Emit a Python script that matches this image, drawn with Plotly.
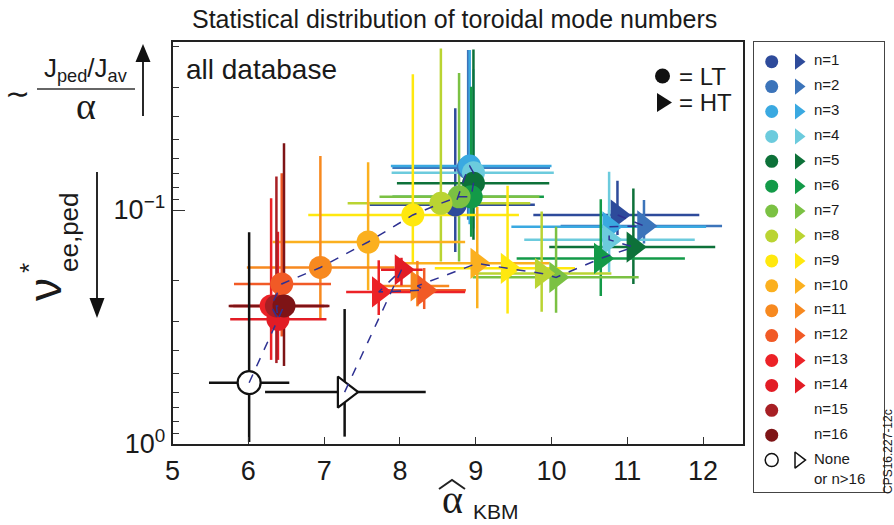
import plotly.graph_objects as go

W, H = 894, 525

labels = ["n=1", "n=2", "n=3", "n=4", "n=5", "n=6", "n=7", "n=8", "n=9", "n=10",
          "n=11", "n=12", "n=13", "n=14", "n=15", "n=16", "None"]
colors = ["#2E4B9B", "#3C74BA", "#3AA9E1", "#6CCBDD", "#0D7139", "#139A48", "#7BC143",
          "#BAD432", "#FFE80E", "#FBB01F", "#F7891F", "#F15A26", "#EC2227", "#E21C25",
          "#A71F24", "#7E1416", "#FFFFFF"]

# LT (circles): n=1..16, None
lt_x = [8.73, 8.90, 8.92, 8.97, 8.97, 8.94, 8.78, 8.54, 8.17, 7.58, 6.95, 6.44, 6.30, 6.39, 6.37, 6.47, 6.01]
lt_y = [0.095, 0.066, 0.0649, 0.0693, 0.0769, 0.0878, 0.0878, 0.0936, 0.105, 0.137, 0.176, 0.207, 0.257, 0.293, 0.257, 0.257, 0.547]
lt_xlo = [7.60, 7.90, 7.88, 7.89, 7.96, 7.90, 7.73, 7.31, 6.79, 6.32, 5.98, 5.81, 5.76, 5.76, 5.80, 5.74, 5.48]
lt_xhi = [9.78, 9.98, 10.00, 10.03, 9.97, 9.90, 9.84, 9.72, 9.57, 8.86, 7.93, 7.09, 7.00, 7.03, 7.05, 7.07, 6.54]
lt_ylo = [0.0367, 0.0207, 0.0207, 0.025, 0.0206, 0.0297, 0.026, 0.0204, 0.0263, 0.0625, 0.0588, 0.0697, 0.089, 0.124, 0.072, 0.0519, 0.1245]
lt_yhi = [0.151, 0.110, 0.115, 0.120, 0.134, 0.130, 0.166, 0.166, 0.169, 0.220, 0.290, 0.347, 0.437, 0.437, 0.451, 0.464, 0.98]

# HT (triangles): n=1..14, None
ht_idx = [0, 1, 2, 3, 4, 5, 6, 7, 8, 9, 10, 11, 12, 13, 16]
ht_x = [10.87, 11.22, 10.76, 10.76, 11.08, 10.65, 10.06, 9.87, 9.42, 9.02, 8.23, 8.32, 7.72, 8.02, 7.27]
ht_y = [0.105, 0.117, 0.118, 0.134, 0.144, 0.161, 0.194, 0.1866, 0.1775, 0.169, 0.211, 0.220, 0.224, 0.180, 0.60]
ht_xlo = [9.76, 10.12, 9.47, 9.64, 9.97, 9.54, 8.96, 8.99, 8.46, 8.03, 7.77, 7.82, 7.29, 7.75, 6.22]
ht_xhi = [11.95, 12.25, 12.04, 11.89, 12.16, 11.76, 11.15, 10.79, 10.31, 9.97, 8.65, 8.87, 8.86, 8.30, 8.34]
ht_ylo = [0.0749, 0.0906, 0.100, 0.0686, 0.081, 0.090, 0.118, 0.1016, 0.0787, 0.0968, 0.165, 0.177, 0.164, 0.160, 0.265]
ht_yhi = [0.128, 0.139, 0.135, 0.184, 0.207, 0.233, 0.275, 0.272, 0.277, 0.263, 0.258, 0.265, 0.281, 0.210, 0.93]

x_ticks = [5, 6, 7, 8, 9, 10, 11, 12]
y_major = [0.1, 1.0]
y_major_text = ["10<sup>\u22121</sup>", "10<sup>0</sup>"]
y_minor = [0.02, 0.03, 0.04, 0.05, 0.06, 0.07, 0.08, 0.09, 0.2, 0.3, 0.4, 0.5, 0.6, 0.7, 0.8, 0.9]

FONT = "Liberation Sans"
DASH_COLOR = "#2E3192"
INK = "#1a1a1a"


def edge(c):
    return "#111111" if c == "#FFFFFF" else c


fig = go.Figure()

# error bars (behind markers)
for i in range(len(lt_x)):
    c = edge(colors[i])
    fig.add_trace(go.Scatter(
        x=[lt_x[i]], y=[lt_y[i]], mode="markers",
        marker=dict(size=1, opacity=0),
        error_x=dict(type="data", symmetric=False, array=[lt_xhi[i] - lt_x[i]],
                     arrayminus=[lt_x[i] - lt_xlo[i]], color=c, thickness=2.5, width=0),
        error_y=dict(type="data", symmetric=False, array=[lt_yhi[i] - lt_y[i]],
                     arrayminus=[lt_y[i] - lt_ylo[i]], color=c, thickness=2.5, width=0),
        showlegend=False, hoverinfo="skip"))
for k, i in enumerate(ht_idx):
    c = edge(colors[i])
    fig.add_trace(go.Scatter(
        x=[ht_x[k]], y=[ht_y[k]], mode="markers",
        marker=dict(size=1, opacity=0),
        error_x=dict(type="data", symmetric=False, array=[ht_xhi[k] - ht_x[k]],
                     arrayminus=[ht_x[k] - ht_xlo[k]], color=c, thickness=2.5, width=0),
        error_y=dict(type="data", symmetric=False, array=[ht_yhi[k] - ht_y[k]],
                     arrayminus=[ht_y[k] - ht_ylo[k]], color=c, thickness=2.5, width=0),
        showlegend=False, hoverinfo="skip"))

# markers
for i in range(len(lt_x)):
    c = colors[i]
    hollow = c == "#FFFFFF"
    fig.add_trace(go.Scatter(
        x=[lt_x[i]], y=[lt_y[i]], mode="markers",
        marker=dict(symbol="circle", size=23, color=c,
                    line=dict(color=edge(c), width=2.2 if hollow else 0)),
        showlegend=False))
for k, i in enumerate(ht_idx):
    c = colors[i]
    hollow = c == "#FFFFFF"
    fig.add_trace(go.Scatter(
        x=[ht_x[k]], y=[ht_y[k]], mode="markers",
        marker=dict(symbol="triangle-right", size=27, color=c,
                    line=dict(color=edge(c), width=2.2 if hollow else 0)),
        showlegend=False))

# dashed trend lines (from None down to n=1)
lt_order = list(range(len(lt_x) - 1, -1, -1))
fig.add_trace(go.Scatter(x=[lt_x[i] for i in lt_order], y=[lt_y[i] for i in lt_order],
                         mode="lines", line=dict(color=DASH_COLOR, width=1.5, dash="dash"),
                         showlegend=False, hoverinfo="skip"))
ht_order = list(range(len(ht_x) - 1, -1, -1))
fig.add_trace(go.Scatter(x=[ht_x[k] for k in ht_order], y=[ht_y[k] for k in ht_order],
                         mode="lines", line=dict(color=DASH_COLOR, width=1.5, dash="dash"),
                         showlegend=False, hoverinfo="skip"))

# ---- legend panel (own axes) ----
row0, drow = 19.7, 24.9
leg_rows = [row0 + drow * i for i in range(len(labels))]
ht_set = set(ht_idx)
for i, lab in enumerate(labels):
    c = colors[i]
    hollow = c == "#FFFFFF"
    fig.add_trace(go.Scatter(x=[17.7], y=[leg_rows[i]], xaxis="x2", yaxis="y2", mode="markers",
                             marker=dict(symbol="circle", size=13, color=c,
                                         line=dict(color=edge(c), width=1.5 if hollow else 0)),
                             showlegend=False, hoverinfo="skip"))
    if i in ht_set:
        fig.add_trace(go.Scatter(x=[44.5], y=[leg_rows[i]], xaxis="x2", yaxis="y2", mode="markers",
                                 marker=dict(symbol="triangle-right", size=14, color=c,
                                             line=dict(color=edge(c), width=1.5 if hollow else 0)),
                                 showlegend=False, hoverinfo="skip"))
    fig.add_trace(go.Scatter(x=[60], y=[leg_rows[i]], xaxis="x2", yaxis="y2", mode="text",
                             text=[lab], textposition="middle right",
                             textfont=dict(family=FONT, size=15, color=INK),
                             showlegend=False, hoverinfo="skip"))
fig.add_trace(go.Scatter(x=[60], y=[leg_rows[-1] + 20], xaxis="x2", yaxis="y2", mode="text",
                         text=["or n>16"], textposition="middle right",
                         textfont=dict(family=FONT, size=15, color=INK),
                         showlegend=False, hoverinfo="skip"))


def px(x):
    return x / W


def py(y):
    return 1 - y / H


fig.update_layout(
    width=W, height=H, margin=dict(l=0, r=0, t=0, b=0, pad=0, autoexpand=False),
    paper_bgcolor="white", plot_bgcolor="white",
    font=dict(family=FONT, color=INK),
    xaxis=dict(domain=[px(172.6), px(742.5)], range=[5, 12.52], tickvals=x_ticks,
               ticks="inside", ticklen=7, tickwidth=1.2, tickcolor="#333",
               ticklabelstandoff=2, automargin=False,
               showline=True, mirror=True, linecolor="#222", linewidth=2,
               showgrid=False, zeroline=False, tickfont=dict(size=27, family=FONT, color=INK)),
    yaxis=dict(domain=[1 - 444 / H, 1 - 42 / H], type="log", range=[0, -1.718],
               tickvals=y_major, ticktext=y_major_text, automargin=False,
               ticks="inside", ticklen=12, tickwidth=1.2, tickcolor="#333",
               minor=dict(tickvals=y_minor, ticks="inside", ticklen=6, tickwidth=1.2, tickcolor="#333"),
               showline=True, mirror=True, linecolor="#222", linewidth=2,
               showgrid=False, zeroline=False, tickfont=dict(size=27, family=FONT, color=INK)),
    xaxis2=dict(domain=[px(754), px(884)], range=[0, 130], showline=True, mirror=True,
                linecolor="#444", linewidth=1.2, showgrid=False, zeroline=False, automargin=False,
                showticklabels=False, ticks="", tickvals=[], anchor="y2"),
    yaxis2=dict(domain=[1 - 492 / H, 1 - 42 / H], range=[450, 0], showline=True, mirror=True,
                linecolor="#444", linewidth=1.2, showgrid=False, zeroline=False, automargin=False,
                showticklabels=False, ticks="", tickvals=[], anchor="x2"),
)

ann = []


def A(text, x, y, size, family=FONT, angle=0, xanchor="center", yanchor="middle"):
    ann.append(dict(text=text, x=px(x), y=py(y), xref="paper", yref="paper", showarrow=False,
                    font=dict(size=size, family=family, color=INK), textangle=angle,
                    xanchor=xanchor, yanchor=yanchor))


A("Statistical distribution of toroidal mode numbers", 454, 19, 25)
A("all database", 184, 70, 28, xanchor="left")
A("= LT", 677, 76, 24, xanchor="left")
A("= HT", 677, 102, 24, xanchor="left")
# y-axis title pieces
A("\u223C", 17, 93, 30)
A("J<sub>ped</sub>/J<sub>av</sub>", 86, 70, 26)
A("\u03B1", 86, 106, 38, family="Liberation Serif")
A("\u03BD", 45, 290, 46, angle=-90)
A("*", 29, 268, 26, angle=-90)
A("ee,ped", 69, 232, 26, angle=-90)
# x-axis title
A("\u03B1", 452, 499, 40, family="Liberation Serif")
A("KBM", 496, 511, 21)
A("CPS16.227-12c", 888, 452, 12, angle=-90)
fig.update_layout(annotations=ann)

shapes = [
    dict(type="line", xref="paper", yref="paper", x0=px(37), x1=px(135), y0=py(89), y1=py(89),
         line=dict(color="#333", width=1.5)),
    dict(type="line", xref="paper", yref="paper", x0=px(143), x1=px(143), y0=py(60), y1=py(116),
         line=dict(color="#111", width=1.8)),
    dict(type="path", xref="paper", yref="paper",
         path=f"M {px(135.5)},{py(62)} L {px(150.5)},{py(62)} L {px(143)},{py(44)} Z",
         fillcolor="#111", line=dict(width=0)),
    dict(type="line", xref="paper", yref="paper", x0=px(97), x1=px(97), y0=py(172), y1=py(300),
         line=dict(color="#111", width=1.8)),
    dict(type="path", xref="paper", yref="paper",
         path=f"M {px(89.5)},{py(298)} L {px(104.5)},{py(298)} L {px(97)},{py(318)} Z",
         fillcolor="#111", line=dict(width=0)),
    # hat over alpha
    dict(type="path", xref="paper", yref="paper",
         path=f"M {px(439)},{py(489)} L {px(452)},{py(480)} L {px(465)},{py(489)}",
         line=dict(color="#222", width=2)),
    # LT / HT key symbols
    dict(type="circle", xref="paper", yref="paper", x0=px(655), x1=px(670), y0=py(68.5), y1=py(83.5),
         fillcolor="#111", line=dict(width=0)),
    dict(type="path", xref="paper", yref="paper",
         path=f"M {px(657)},{py(93)} L {px(672)},{py(102.5)} L {px(657)},{py(112)} Z",
         fillcolor="#111", line=dict(width=0)),
]
fig.update_layout(shapes=shapes)

fig.write_html("out.html")
